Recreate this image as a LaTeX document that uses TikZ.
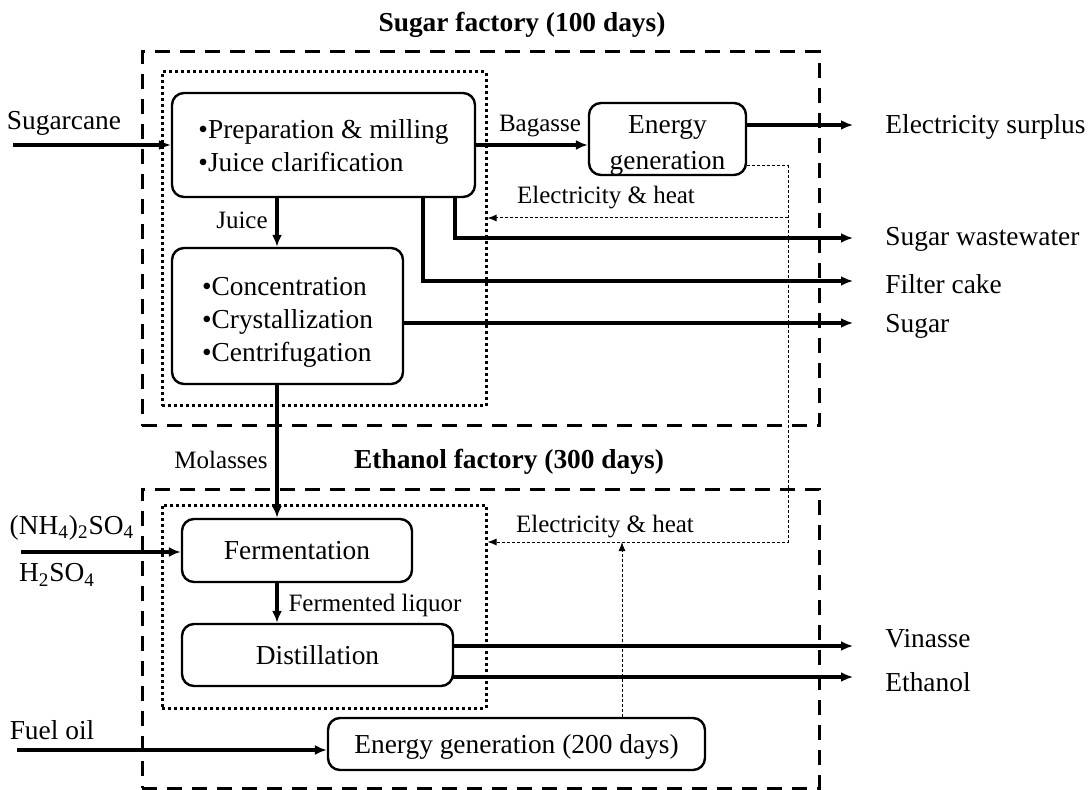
\documentclass[tikz,border=0pt]{standalone}
\usepackage{fontspec}
\setmainfont{Liberation Serif}
\usetikzlibrary{arrows.meta,positioning}

\newcommand{\bodysize}{\fontsize{13.7}{16.5}\selectfont}
\newcommand{\notesize}{\fontsize{12.5}{15}\selectfont}

\tikzset{
  procbox/.style={draw, line width=1.2pt, rounded corners=6pt, font=\bodysize, inner sep=0pt},
  plantframe/.style={draw, line width=1.5pt, dash pattern=on 7.5pt off 5pt, inner sep=0pt},
  areaframe/.style={draw, line width=1.5pt, dash pattern=on 1.5pt off 1.5pt, inner sep=0pt},
  stream/.style={line width=1.6pt, -{Latex[length=6pt,width=5pt]}},
  utilityline/.style={line width=0.5pt, dash pattern=on 1.5pt off 1pt, -{Latex[length=4.5pt,width=3.5pt]}},
  flowlabel/.style={font=\notesize, inner sep=0pt},
  outlabel/.style={font=\bodysize, inner sep=0pt, anchor=west},
  inlabel/.style={font=\bodysize, inner sep=0pt},
}

\begin{document}
\begin{tikzpicture}[x=0.5pt, y=-0.5pt]
    \useasboundingbox (0,0) rectangle (1091,790);

    % factory frames
    \node[plantframe, minimum width=338.5pt, minimum height=187pt] (sugarplant) at (480.5,239) {};
    \node[plantframe, minimum width=338.5pt, minimum height=149.5pt] (ethanolplant) at (480.5,638.5) {};
    \node[areaframe, minimum width=162pt, minimum height=167pt] (sugararea) at (324,239) {};
    \node[areaframe, minimum width=162pt, minimum height=101.5pt] (ethanolarea) at (324,606.5) {};

    \node[font=\bodysize\bfseries, inner sep=0pt] (sugartitle) at (522,25) {Sugar factory (100 days)};
    \node[font=\bodysize\bfseries, inner sep=0pt] (ethanoltitle) at (509,462) {Ethanol factory (300 days)};

    % process units
    \node[procbox, minimum width=151.5pt, minimum height=52pt, align=left,
          text height=38pt, text depth=11.6pt] (prep) at (323.5,145)
        {\textbullet Preparation \& milling\\\textbullet Juice clarification};
    \node[procbox, minimum width=78.5pt, minimum height=36pt, align=center,
          text height=33pt, text depth=2.6pt] (boiler) at (667.5,139)
        {Energy\\[1.5pt]generation};
    \node[procbox, minimum width=115.5pt, minimum height=68pt, align=left,
          text height=56pt, text depth=10.6pt] (cryst) at (287.5,316)
        {\textbullet Concentration\\\textbullet Crystallization\\\textbullet Centrifugation};
    \node[procbox, minimum width=115pt, minimum height=31.5pt] (ferm) at (297,550.5) {Fermentation};
    \node[procbox, minimum width=135.5pt, minimum height=31pt] (dist) at (317.5,655) {Distillation};
    \node[procbox, minimum width=188.5pt, minimum height=26pt,
          text height=11pt, text depth=1.5pt] (fuelgen) at (516.5,744) {Energy generation (200 days)};

    % free ends
    \coordinate (cane) at (13,145);
    \coordinate (chem) at (21,552);
    \coordinate (fuel) at (17,750);
    \coordinate (elec) at (853,125);
    \coordinate (waste) at (853,238);
    \coordinate (cake) at (853,281);
    \coordinate (sugar) at (853,323);
    \coordinate (vinasse) at (853,646);
    \coordinate (etoh) at (853,677);
    \coordinate (bustop) at (788,166);
    \coordinate (busmid) at (788,218);
    \coordinate (busbot) at (788,542);

    % material streams
    \draw[stream] (cane) -- (prep.west |- cane);
    \draw[stream] (prep.east |- cane) -- (boiler.west |- cane);
    \draw[stream] (boiler.east |- elec) -- (elec);
    \draw[stream] (455,0 |- prep.south) |- (waste);
    \draw[stream] (423,0 |- prep.south) |- (cake);
    \draw[stream] (277,0 |- prep.south) -- (277,0 |- cryst.north);
    \draw[stream] (cryst.east |- sugar) -- (sugar);
    \draw[stream] (277,0 |- cryst.south) -- (277,0 |- ferm.north);
    \draw[stream] (chem) -- (ferm.west |- chem);
    \draw[stream] (277,0 |- ferm.south) -- (277,0 |- dist.north);
    \draw[stream] (dist.east |- vinasse) -- (vinasse);
    \draw[stream] ([xshift=-1pt]dist.east |- etoh) -- (etoh);
    \draw[stream] (fuel) -- (fuelgen.west |- fuel);

    % electricity and heat
    \draw[utilityline] (boiler.east |- bustop) -- (bustop) -- (busbot) -- (ethanolarea.east |- busbot);
    \draw[utilityline] (busmid) -- (sugararea.east |- busmid);
    \draw[utilityline] (622,0 |- fuelgen.north) -- (622,0 |- busbot);

    % stream labels
    \node[flowlabel] (bagassel) at (540,126) {Bagasse};
    \node[flowlabel] (juicel) at (242,220) {Juice};
    \node[flowlabel] (heatsl) at (606,198) {Electricity \& heat};
    \node[flowlabel] (molassesl) at (221,460) {Molasses};
    \node[flowlabel] (liquorl) at (375,605) {Fermented liquor};
    \node[flowlabel] (heatel) at (605,527) {Electricity \& heat};

    \node[inlabel] (canel) at (64,123) {Sugarcane};
    \node[inlabel] (ammoniuml) at (72,528) {(NH\textsubscript{4})\textsubscript{2}SO\textsubscript{4}};
    \node[inlabel] (acidl) at (57,575) {H\textsubscript{2}SO\textsubscript{4}};
    \node[inlabel] (fuell) at (52,730) {Fuel oil};

    \node[outlabel] (elecl) at (885,127) {Electricity surplus};
    \node[outlabel] (wastel) at (885,239) {Sugar wastewater};
    \node[outlabel] (cakel) at (885,284) {Filter cake};
    \node[outlabel] (sugarl) at (885,326) {Sugar};
    \node[outlabel] (vinassel) at (885,639) {Vinasse};
    \node[outlabel] (etohl) at (885,682) {Ethanol};
\end{tikzpicture}
\end{document}
